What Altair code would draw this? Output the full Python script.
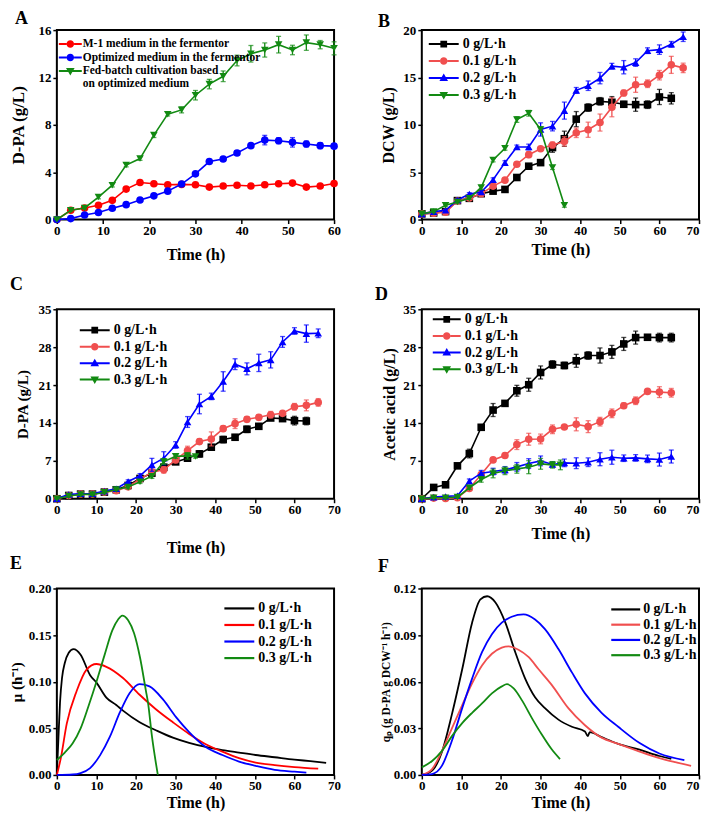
import altair as alt
import pandas as pd

FONT = "Liberation Serif"
BLACK = "#000000"
RED = "#ff0000"
RED2 = "#f04f4f"
BLUE = "#0000ff"
GREEN = "#128a12"

FEED = ["0 g/L·h", "0.1 g/L·h", "0.2 g/L·h", "0.3 g/L·h"]

# ---------------- Panel A ----------------
A_names = ["M-1 medium in the fermentor", "Optimized medium in the fermentor",
           "Fed-batch cultivation based", "on optimized medium"]
A_t = [0, 3, 6, 9, 12, 15, 18, 21, 24, 27, 30, 33, 36, 39, 42, 45, 48, 51, 54, 57, 60]
A_red = [0, 0.78, 0.98, 1.2, 1.62, 2.57, 3.13, 3.02, 2.94, 2.97, 2.94, 2.74, 2.83, 2.9, 2.83,
         2.94, 3.02, 3.08, 2.74, 2.83, 3.05]
A_red_e = [0, 0.1, 0.1, 0.1, 0.1, 0.15, 0.15, 0.1, 0.1, 0.1, 0.1, 0.1, 0.1, 0.1, 0.1,
           0.1, 0.1, 0.1, 0.1, 0.15, 0.15]
A_blue = [0, 0.08, 0.39, 0.59, 0.95, 1.26, 1.65, 2.0, 2.4, 3.0, 3.86, 4.9, 5.12, 5.62, 6.24,
          6.71, 6.66, 6.52, 6.38, 6.24, 6.2]
A_blue_e = [0, 0.05, 0.1, 0.1, 0.1, 0.1, 0.1, 0.1, 0.1, 0.15, 0.15, 0.15, 0.2, 0.2, 0.15,
            0.4, 0.25, 0.4, 0.25, 0.25, 0.15]
A_green = [0, 0.78, 0.98, 1.9, 2.9, 4.6, 5.15, 7.13, 8.9, 9.26, 10.5, 11.44, 12.1, 13.43, 14.0,
           14.32, 14.77, 14.32, 14.94, 14.77, 14.46]
A_green_e = [0, 0.1, 0.1, 0.15, 0.15, 0.15, 0.15, 0.2, 0.15, 0.25, 0.4, 0.4, 0.45, 0.45, 0.7,
             0.6, 0.7, 0.4, 0.65, 0.35, 0.55]

# ---------------- Panel B (DCW) ----------------
T63 = [0, 3, 6, 9, 12, 15, 18, 21, 24, 27, 30, 33, 36, 39, 42, 45, 48, 51, 54, 57, 60, 63]
T66 = [0, 3, 6, 9, 12, 15, 18, 21, 24, 27, 30, 33, 36, 39, 42, 45, 48, 51, 54, 57, 60, 63, 66]
T36 = [0, 3, 6, 9, 12, 15, 18, 21, 24, 27, 30, 33, 36]
T35 = [0, 3, 6, 9, 12, 15, 18, 21, 24, 27, 30, 33, 35]

B_0 = [0.6, 0.7, 0.84, 2.0, 2.24, 2.73, 3.0, 3.18, 4.44, 5.63, 6.01, 7.6, 8.53, 10.6, 11.82,
       12.48, 12.38, 12.17, 12.13, 12.13, 12.94, 12.8]
B_0e = [0.1, 0.1, 0.1, 0.1, 0.1, 0.1, 0.1, 0.1, 0.15, 0.2, 0.2, 0.5, 0.8, 0.8, 0.4, 0.4, 0.6,
        0.3, 0.7, 0.4, 0.8, 0.6]
B_1 = [0.6, 0.66, 0.77, 1.96, 2.27, 2.73, 3.53, 4.16, 5.84, 6.85, 7.48, 7.87, 8.25, 9.16, 9.48,
       10.24, 11.85, 13.36, 14.23, 14.34, 15.24, 16.33, 16.01]
B_1e = [0.1, 0.1, 0.1, 0.1, 0.1, 0.1, 0.15, 0.15, 0.2, 0.3, 0.2, 0.3, 0.5, 0.5, 0.8, 0.9, 1.0,
        0.3, 0.8, 0.4, 0.5, 0.9, 0.5]
B_2 = [0.6, 0.84, 0.98, 2.06, 2.69, 2.9, 4.2, 6.01, 7.66, 7.66, 9.51, 9.86, 11.5, 13.64, 14.13,
       14.93, 16.19, 16.08, 16.57, 17.83, 17.94, 18.5, 19.3]
B_2e = [0.1, 0.1, 0.1, 0.15, 0.15, 0.2, 0.2, 0.2, 0.2, 0.3, 0.7, 0.5, 0.9, 0.3, 0.5, 0.6, 0.3,
        0.7, 0.4, 0.3, 0.5, 0.3, 0.5]
B_3 = [0.6, 0.84, 1.5, 1.85, 2.24, 3.39, 6.29, 7.52, 10.56, 11.22, 9.51, 5.49, 1.5]
B_3e = [0.1, 0.1, 0.1, 0.1, 0.1, 0.2, 0.2, 0.2, 0.3, 0.3, 0.3, 0.2, 0.2]

# ---------------- Panel C (D-PA) ----------------
C_0 = [0, 0.6, 0.86, 0.86, 1.23, 1.66, 2.46, 3.74, 4.73, 5.83, 6.81, 7.49, 8.29, 9.52, 10.93,
       11.36, 12.83, 13.38, 14.92, 14.8, 14.43, 14.36]
C_0e = [0, 0.2, 0.2, 0.2, 0.2, 0.2, 0.3, 0.3, 0.4, 0.5, 0.4, 0.4, 0.6, 0.4, 0.6, 0.5, 0.6, 0.5,
        0.4, 0.4, 0.8, 0.7]
C_1 = [0, 0.6, 0.86, 0.86, 1.23, 1.47, 2.2, 3.62, 4.91, 5.34, 7.18, 8.9, 10.56, 11.05, 12.95,
       13.87, 14.67, 15.04, 15.53, 15.78, 17.0, 17.25, 17.8]
C_1e = [0, 0.2, 0.2, 0.2, 0.2, 0.2, 0.3, 0.3, 0.5, 0.6, 0.5, 0.8, 0.5, 1.3, 0.5, 0.9, 0.5, 0.5,
        0.6, 0.4, 0.6, 1.0, 0.7]
C_2 = [0, 0.8, 0.92, 0.92, 1.41, 1.84, 3.19, 4.24, 6.26, 7.49, 9.94, 14.18, 17.5, 18.91, 21.67,
       24.86, 24.0, 25.1, 25.66, 28.97, 31.0, 30.51, 30.57]
C_2e = [0, 0.2, 0.2, 0.2, 0.2, 0.3, 0.3, 0.4, 1.2, 1.2, 0.6, 1.0, 1.8, 0.6, 1.8, 1.0, 1.1, 1.6,
        1.5, 1.0, 0.6, 1.6, 0.8]
C_3 = [0, 0.5, 0.8, 0.8, 1.17, 1.72, 2.15, 3.13, 4.17, 6.87, 7.86, 7.92, 7.8]
C_3e = [0, 0.2, 0.2, 0.2, 0.2, 0.2, 0.3, 0.3, 0.4, 0.5, 0.4, 0.6, 0.3]

# ---------------- Panel D (acetic acid) ----------------
D_0 = [0, 2.09, 2.58, 6.08, 8.35, 13.2, 16.39, 17.62, 19.95, 21.06, 23.33, 24.8, 24.62, 25.48,
       26.46, 26.46, 27.13, 28.6, 29.77, 29.83, 29.77, 29.77]
D_0e = [0, 0.2, 0.2, 0.2, 0.8, 0.3, 1.2, 0.3, 1.0, 1.2, 1.2, 0.7, 0.6, 1.2, 0.7, 1.4, 1.2, 1.2,
        1.2, 0.3, 0.8, 0.8]
D_1 = [0, 0.12, 0.06, 0.18, 1.9, 4.48, 7.18, 7.98, 10.0, 10.99, 11.05, 12.83, 13.26, 13.75,
       13.32, 14.24, 15.78, 17.19, 18.11, 19.83, 19.7, 19.58]
D_1e = [0, 0.05, 0.05, 0.1, 0.3, 0.4, 0.3, 0.4, 0.9, 1.1, 0.9, 0.8, 0.3, 1.2, 1.1, 0.8, 0.8, 0.5,
        0.7, 0.3, 1.0, 0.8]
D_2 = [0, 0.3, 0.43, 0.55, 3.25, 4.73, 5.03, 5.34, 5.89, 6.5, 7.0, 6.32, 6.63, 6.57, 6.75, 7.3,
       7.67, 7.49, 7.55, 7.37, 7.24, 7.8]
D_2e = [0, 0.1, 0.1, 0.2, 0.4, 0.5, 0.6, 0.6, 0.8, 0.9, 0.9, 0.5, 0.7, 1.0, 0.8, 1.2, 1.3, 0.6,
        0.6, 0.7, 1.2, 1.2]
D_3 = [0, 0.18, 0.18, 0.3, 2.03, 3.56, 4.67, 5.16, 5.52, 5.83, 6.45, 6.26, 6.26]
D_3e = [0, 0.1, 0.1, 0.1, 0.3, 0.5, 0.8, 0.7, 0.8, 1.2, 1.0, 0.6, 0.9]

# ---------------- Panel E (mu) ----------------
E_t0 = [0, 0.4, 0.8, 1.3, 2, 3, 4.2, 6, 8.4, 10, 12.5, 15, 16.7, 20.9, 25, 29.3, 33.4, 37.6,
        41.8, 46, 50.2, 55, 60, 64, 68]
E_v0 = [0, 0.04, 0.078, 0.104, 0.12, 0.131, 0.135, 0.129, 0.107, 0.099, 0.083, 0.075, 0.069,
        0.0565, 0.048, 0.04, 0.0344, 0.030, 0.0267, 0.024, 0.0214, 0.019, 0.0165, 0.0148, 0.013]
E_t1 = [0, 1, 2.5, 5, 7.5, 10, 12.5, 16.7, 20.9, 25, 29.3, 33.4, 37.6, 41.8, 46, 50.2, 55, 60, 66]
E_v1 = [0, 0.018, 0.055, 0.09, 0.113, 0.119, 0.116, 0.104, 0.086, 0.0705, 0.0565, 0.044, 0.033,
        0.025, 0.018, 0.0133, 0.0105, 0.0084, 0.0067]
E_t2 = [0, 4, 6, 8.4, 10.9, 13.4, 15.9, 18.4, 20.9, 23.4, 26.8, 30.1, 33.4, 37.6, 41.8, 46, 50.2,
        55, 60, 63]
E_v2 = [0, 0.0005, 0.002, 0.0074, 0.021, 0.041, 0.067, 0.088, 0.0975, 0.095, 0.081, 0.062, 0.046,
        0.030, 0.0214, 0.0144, 0.0098, 0.0055, 0.0035, 0.0025]
E_t3 = [0, 2, 4, 6, 8, 10, 12, 14, 15.5, 16.5, 18, 19.5, 21, 22.5, 23, 24, 25, 25.5]
E_v3 = [0.016, 0.024, 0.034, 0.05, 0.074, 0.10, 0.128, 0.155, 0.167, 0.171, 0.166, 0.152, 0.126,
        0.09, 0.078, 0.042, 0.013, 0]

# ---------------- Panel F (qp) ----------------
F_t0 = [0, 2.6, 5.1, 7.6, 10.2, 12.7, 14.8, 16.5, 18.6, 21.1, 23.6, 26.1, 28.6, 31.1, 34.5, 37.9,
        41.2, 41.9, 42.4, 45.4, 49.6, 55, 60, 63]
F_v0 = [0, 0.0028, 0.015, 0.039, 0.068, 0.098, 0.113, 0.115, 0.111, 0.098, 0.079, 0.062, 0.050,
        0.043, 0.0356, 0.031, 0.028, 0.025, 0.0275, 0.0243, 0.020, 0.0163, 0.0122, 0.0103]
F_t1 = [0, 2.6, 5.1, 7.6, 10.2, 12.7, 15.2, 17.7, 20.2, 21.9, 24.4, 27, 29.5, 32.8, 37, 41.2, 45.4,
        49.6, 55, 60, 64, 68]
F_v1 = [0, 0.0038, 0.0155, 0.030, 0.045, 0.059, 0.0705, 0.078, 0.082, 0.0828, 0.0806, 0.0758,
        0.068, 0.058, 0.043, 0.032, 0.024, 0.020, 0.0150, 0.0108, 0.0082, 0.0059]
F_t2 = [0, 2.6, 5.1, 7.6, 10.2, 12.7, 15.2, 17.7, 20.2, 22.7, 25.7, 28.6, 31.1, 34.5, 37.9, 41.2,
        45.4, 49.6, 55, 60, 66.3]
F_v2 = [0, 0.0006, 0.006, 0.022, 0.043, 0.062, 0.079, 0.0906, 0.098, 0.1018, 0.1033, 0.100,
        0.0938, 0.081, 0.066, 0.0525, 0.040, 0.031, 0.0205, 0.0138, 0.0095]
F_t3 = [0, 2.6, 5.1, 7.6, 10.2, 12.7, 15.2, 17.7, 20.2, 21.5, 23.2, 25.3, 27.8, 30.3, 32.8, 34.9]
F_v3 = [0.0049, 0.009, 0.0155, 0.025, 0.0334, 0.040, 0.046, 0.0525, 0.057, 0.0584, 0.0557, 0.048,
        0.0366, 0.026, 0.0165, 0.0102]

# tick values
X60 = [0, 10, 20, 30, 40, 50, 60]
X70 = [0, 10, 20, 30, 40, 50, 60, 70]
YA = [0, 4, 8, 12, 16]
YB = [0, 5, 10, 15, 20]
YCD = [0, 7, 14, 21, 28, 35]
YE = [0, 0.05, 0.10, 0.15, 0.20]
YF = [0, 0.03, 0.06, 0.09, 0.12]

W = 278
H_TOP = 190
H_BOT = 187
SYM_SIZE = 100          # legend symbol "size": sqrt = 10 px -> path unit = 5 px
K = 5.0

LAST_RIGHT = {"condition": {"test": "datum.value == 70", "value": "right"}, "value": "center"}


def legend_paths(L, marker, lw):
    e = L / 2 / K          # half length in path units
    h = marker / 2 / K     # half marker
    t = lw / 2 / K         # half line thickness

    def seg(q):
        return (f"M{-e:.3f},{-t:.3f}H{-q:.3f}V{t:.3f}H{-e:.3f}Z"
                f"M{q:.3f},{-t:.3f}H{e:.3f}V{t:.3f}H{q:.3f}Z")
    s = h * 0.9
    square = seg(s) + f"M{-s:.3f},{-s:.3f}H{s:.3f}V{s:.3f}H{-s:.3f}Z"
    circle = (seg(h) + f"M{-h:.3f},0A{h:.3f},{h:.3f} 0 1,1 {h:.3f},0"
              f"A{h:.3f},{h:.3f} 0 1,1 {-h:.3f},0Z")
    a, w, b = h * 1.2, h * 1.15, h * 0.8
    up = seg(h * 0.5) + f"M0,{-a:.3f}L{w:.3f},{b:.3f}L{-w:.3f},{b:.3f}Z"
    dn = seg(h * 0.5) + f"M0,{a:.3f}L{-w:.3f},{-b:.3f}L{w:.3f},{-b:.3f}Z"
    return {"square": square, "circle": circle, "triangle-up": up, "triangle-down": dn}


def legend_geometry(sym_left, L, label_start, first_row, fs):
    lx = sym_left + L / 2 - fs / 2
    lo = label_start - lx - fs
    ly = first_row - fs / 2
    return lx, ly, lo


def letter_title(text, dx, offset):
    return alt.TitleParams(text, anchor="start", frame="group", dx=dx, offset=offset,
                           fontSize=18, font=FONT, fontWeight="bold", color="black")


def x_axis(xvals, xtpad, right):
    kw = dict(title="Time (h)", values=xvals, labelFlush=False, titlePadding=xtpad)
    if right:
        kw["labelAlign"] = LAST_RIGHT
    return alt.Axis(**kw)


def marker_panel(series, xmax, xvals, ymax, yvals, ytitle, ytsize, ytpad, xtpad,
                 letter, ldx, loff, leg, right=False):
    xs = alt.Scale(domain=[0, xmax], nice=False, zero=False)
    ys = alt.Scale(domain=[0, ymax], nice=False)
    xax = x_axis(xvals, xtpad, right)
    yax = alt.Axis(title=ytitle, values=yvals, titleFontSize=ytsize, titlePadding=ytpad)
    X = alt.X("t:Q", scale=xs, axis=xax)
    Y = alt.Y("v:Q", scale=ys, axis=yax)
    layers = []
    for (t, v, e, color, shape) in series:
        df = pd.DataFrame({"t": t, "v": v,
                           "lo": [max(0.0, a - b) for a, b in zip(v, e)],
                           "hi": [a + b for a, b in zip(v, e)]})
        base = alt.Chart(df)
        layers.append(base.mark_line(color=color, strokeWidth=1.6).encode(x=X, y=Y))
        layers.append(base.mark_errorbar(ticks=True, color=color, size=5, thickness=1.3).encode(
            x=X, y=alt.Y("lo:Q", scale=ys, axis=yax, title=ytitle),
            y2=alt.Y2("hi:Q", title=ytitle)))
        layers.append(base.mark_point(shape=shape, filled=True, size=58, color=color,
                                      opacity=1).encode(x=X, y=Y))
    names, colors, shapes = leg["names"], leg["colors"], leg["shapes"]
    P = legend_paths(leg["L"], 7.5, 2)
    paths = [P[s] for s in shapes]
    lx, ly, lo = legend_geometry(leg["sx"], leg["L"], leg["tx"], leg["row"], leg["fs"])
    lg = alt.Legend(title=None, orient="none", legendX=lx, legendY=ly,
                    symbolSize=SYM_SIZE, symbolStrokeWidth=0, symbolOpacity=1,
                    labelFont=FONT, labelFontSize=leg["fs"], labelFontWeight="bold",
                    labelColor="black", rowPadding=leg["rp"], padding=0,
                    labelOffset=lo, labelLimit=0)
    ldf = pd.DataFrame({"s": names})
    dummy = alt.Chart(ldf).mark_point(filled=True, opacity=0).encode(
        color=alt.Color("s:N", scale=alt.Scale(domain=names, range=colors), legend=lg),
        shape=alt.Shape("s:N", scale=alt.Scale(domain=names, range=paths), legend=lg))
    layers.append(dummy)
    return alt.layer(*layers).properties(width=W, height=H_TOP,
                                         title=letter_title(letter, ldx, loff))


def curve_panel(curves, ymax, yvals, fmt, ytitle, ytsize, ytpad, xtpad, letter, ldx, loff, leg,
                colors, right=False):
    rows = []
    for name, t, v in curves:
        for a, b in zip(t, v):
            rows.append({"s": name, "t": a, "v": b})
    df = pd.DataFrame(rows)
    xs = alt.Scale(domain=[0, 70], nice=False, zero=False)
    ys = alt.Scale(domain=[0, ymax], nice=False)
    fs = 14
    lx, ly, lo = legend_geometry(leg["sx"], leg["L"], leg["tx"], leg["row"], fs)
    e = leg["L"] / 2 / K
    lg = alt.Legend(title=None, orient="none", legendX=lx, legendY=ly,
                    symbolType=f"M{-e:.3f},0H{e:.3f}", symbolSize=SYM_SIZE,
                    symbolStrokeWidth=2.2,
                    labelFont=FONT, labelFontSize=fs, labelFontWeight="bold",
                    labelColor="black", rowPadding=leg["rp"], padding=0,
                    labelOffset=lo, labelLimit=0)
    ch = alt.Chart(df).mark_line(interpolate="monotone", strokeWidth=1.8).encode(
        x=alt.X("t:Q", scale=xs, axis=x_axis(X70, xtpad, right)),
        y=alt.Y("v:Q", scale=ys, axis=alt.Axis(title=ytitle, values=yvals, format=fmt,
                                                titleFontSize=ytsize, titlePadding=ytpad)),
        color=alt.Color("s:N", scale=alt.Scale(domain=FEED, range=colors), legend=lg),
        order="t:Q")
    return ch.properties(width=W, height=H_BOT, title=letter_title(letter, ldx, loff))


SH = ["square", "circle", "triangle-up", "triangle-down"]
COL4 = [BLACK, RED2, BLUE, GREEN]

panelA = marker_panel(
    [(A_t, A_red, A_red_e, RED, "circle"), (A_t, A_blue, A_blue_e, BLUE, "circle"),
     (A_t, A_green, A_green_e, GREEN, "triangle-down")],
    60, X60, 16, YA, "D-PA  (g/L)", 17, 10, 9, "A", -42, -4,
    {"names": A_names, "colors": [RED, BLUE, GREEN, "rgba(0,0,0,0)"],
     "shapes": ["circle", "circle", "triangle-down", "circle"],
     "L": 23, "sx": 2, "tx": 26, "row": 14, "fs": 11.5, "rp": 0.5})

panelB = marker_panel(
    [(T63, B_0, B_0e, BLACK, "square"), (T66, B_1, B_1e, RED2, "circle"),
     (T66, B_2, B_2e, BLUE, "triangle-up"), (T36, B_3, B_3e, GREEN, "triangle-down")],
    70, X70, 20, YB, "DCW (g/L)", 16, 6, 4, "B", -44, -7,
    {"names": FEED, "colors": COL4, "shapes": SH, "L": 30, "sx": 7, "tx": 41, "row": 14,
     "fs": 14, "rp": 3}, right=True)

panelC = marker_panel(
    [(T63, C_0, C_0e, BLACK, "square"), (T66, C_1, C_1e, RED2, "circle"),
     (T66, C_2, C_2e, BLUE, "triangle-up"), (T35, C_3, C_3e, GREEN, "triangle-down")],
    70, X70, 35, YCD, "D-PA (g/L)", 15, 7, 23, "C", -47, 9,
    {"names": FEED, "colors": COL4, "shapes": SH, "L": 30, "sx": 23, "tx": 57, "row": 21,
     "fs": 14, "rp": 2.5})

panelD = marker_panel(
    [(T63, D_0, D_0e, BLACK, "square"), (T63, D_1, D_1e, RED2, "circle"),
     (T63, D_2, D_2e, BLUE, "triangle-up"), (T35, D_3, D_3e, GREEN, "triangle-down")],
    70, X70, 35, YCD, "Acetic acid (g/L)", 16, 5, 9, "D", -47, -1,
    {"names": FEED, "colors": COL4, "shapes": SH, "L": 28, "sx": 11, "tx": 43, "row": 10,
     "fs": 14, "rp": 2.7}, right=True)

panelE = curve_panel(
    [(FEED[0], E_t0, E_v0), (FEED[1], E_t1, E_v1), (FEED[2], E_t2, E_v2), (FEED[3], E_t3, E_v3)],
    0.20, YE, ".2f", "μ (h⁻¹)", 15, 4, 2, "E", -47, 10,
    {"sx": 168, "L": 30, "tx": 202, "row": 20, "rp": 2.6}, [BLACK, RED, BLUE, GREEN])

panelF = curve_panel(
    [(FEED[0], F_t0, F_v0), (FEED[1], F_t1, F_v1), (FEED[2], F_t2, F_v2), (FEED[3], F_t3, F_v3)],
    0.12, YF, ".2f", "qₚ (g D-PA g DCW⁻¹ h⁻¹)", 11.5, 2, 2, "F", -44, 7,
    {"sx": 190, "L": 29, "tx": 222, "row": 21, "rp": 1.3}, [BLACK, RED2, BLUE, GREEN],
    right=True)

chart = alt.concat(
    panelA, panelB, panelC, panelD, panelE, panelF,
    columns=2, spacing={"row": 90, "column": 88}, bounds="flush"
).resolve_scale(
    color="independent", shape="independent"
).resolve_legend(
    color="independent", shape="independent"
).properties(
    padding={"left": 0, "top": 0, "right": 0, "bottom": 0}
).configure(font=FONT).configure_view(
    stroke="black", strokeWidth=2
).configure_axis(
    domain=False, grid=False, ticks=True, tickColor="black", tickWidth=1.5, tickSize=4,
    labelFont=FONT, labelFontWeight="bold", labelFontSize=13, labelColor="black",
    labelPadding=2, titleFont=FONT, titleFontWeight="bold", titleFontSize=16,
    titleColor="black"
).configure_axisX(labelPadding=1)

chart.save("out.html", embed_options={"renderer": "svg", "actions": False})
